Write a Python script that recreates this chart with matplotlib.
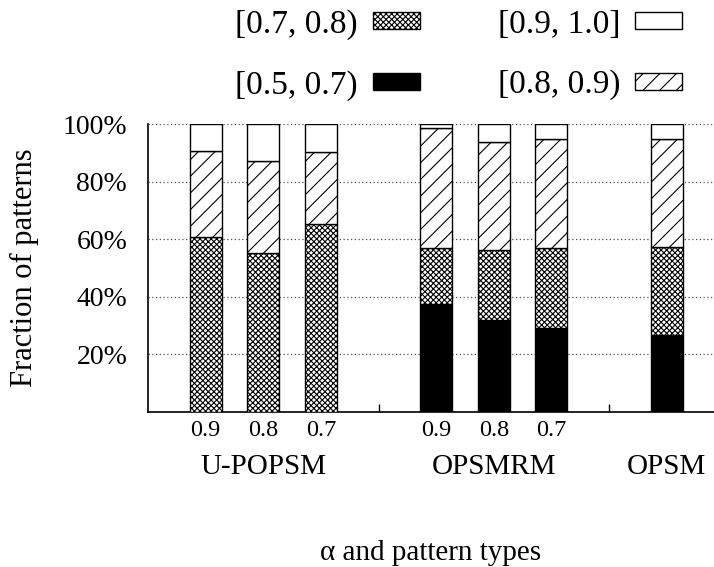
import numpy as np
import matplotlib.pyplot as plt
from matplotlib.patches import Patch

plt.rcParams['font.family'] = ['Liberation Serif', 'DejaVu Serif']
plt.rcParams['hatch.linewidth'] = 0.8

# Datos: fraccion de patrones (%) por rango de confianza
groups = ['U-POPSM', 'OPSMRM', 'OPSM']
group_sizes = [3, 3, 1]
alphas = ['0.9', '0.8', '0.7', '0.9', '0.8', '0.7', '']
b57 = np.array([0, 0, 0, 37.5, 31.9, 29.1, 26.6])
b78 = np.array([60.9, 55.3, 65.3, 19.5, 24.4, 27.9, 30.8])
b89 = np.array([29.7, 32.0, 24.9, 41.5, 37.3, 37.7, 37.4])
b910 = 100 - b57 - b78 - b89

# posiciones de las barras: grupos separados por un hueco
x = []
centers = []
gaps = []
pos = 1
for n in group_sizes:
    xs = list(range(pos, pos + n))
    x += xs
    centers.append(np.mean(xs))
    pos += n
    gaps.append(pos)
    pos += 1
x = np.array(x)
gaps = gaps[:-1]

fig = plt.figure(figsize=(7.14, 5.67), dpi=100)
ax = fig.add_axes([148/714, 155/567, 1 - 148/714, 288/567])

w = 0.555
kw = dict(width=w, edgecolor='black', linewidth=1.0, zorder=3)
ax.bar(x, b57, color='black', **kw)
ax.bar(x, b78, bottom=b57, color='white', hatch='xxxxxx', **kw)
ax.bar(x, b89, bottom=b57 + b78, color='white', hatch='//', **kw)
ax.bar(x, b910, bottom=b57 + b78 + b89, color='white', **kw)

ax.set_xlim(0, 9.82)
ax.set_ylim(0, 100)
ax.set_yticks([20, 40, 60, 80, 100])
ax.set_yticklabels(['20%', '40%', '60%', '80%', '100%'], fontsize=20)
ax.tick_params(axis='y', length=0, pad=15)
ax.set_xticks(x)
ax.set_xticklabels(alphas, fontsize=17.5)
ax.tick_params(axis='x', length=0, pad=6)
ax.set_xticks(gaps, minor=True)
ax.tick_params(axis='x', which='minor', direction='in', length=6, width=1.0)

ax.grid(axis='y', color='0.3', linestyle=(0, (1, 2)), linewidth=0.9, zorder=0)
ax.spines['top'].set_visible(False)
ax.spines['right'].set_visible(False)
ax.spines['left'].set_linewidth(1.2)
ax.spines['bottom'].set_linewidth(1.2)

for c, g in zip(centers, groups):
    ax.text(c, -19, g, fontsize=21, ha='center', va='center')

ax.set_ylabel('Fraction of patterns', fontsize=22, labelpad=17)
fig.text(431/714, 7/567, 'α and pattern types', fontsize=21,
         ha='center', va='baseline')

handles = [
    Patch(facecolor='white', edgecolor='black', hatch='xxxxxx', label='[0.7, 0.8)'),
    Patch(facecolor='black', edgecolor='black', label='[0.5, 0.7)'),
    Patch(facecolor='white', edgecolor='black', label='[0.9, 1.0]'),
    Patch(facecolor='white', edgecolor='black', hatch='//', label='[0.8, 0.9)'),
]
fig.legend(handles=handles, ncol=2, loc='upper right',
           bbox_to_anchor=(682/714, 1 - 9/567), frameon=False,
           fontsize=24, markerfirst=False, handlelength=1.4,
           handleheight=0.42, handletextpad=0.45, columnspacing=2.35,
           labelspacing=0.9, borderpad=0, borderaxespad=0)

fig.savefig('out.png', dpi=100)
